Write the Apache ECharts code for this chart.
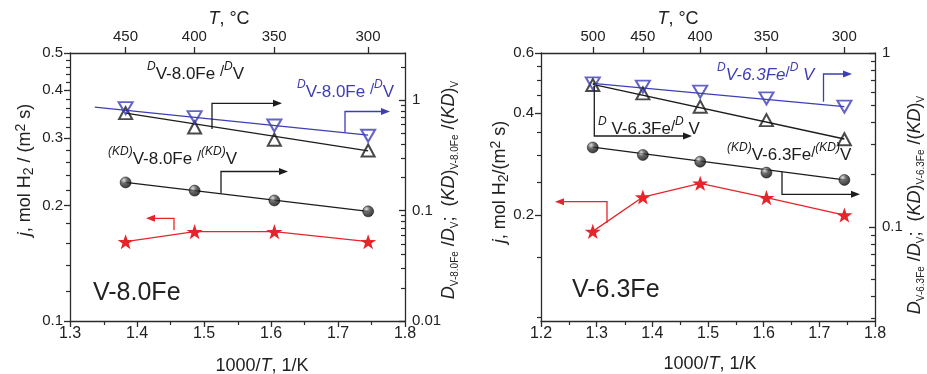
<!DOCTYPE html>
<html><head><meta charset="utf-8">
<script src="https://cdn.jsdelivr.net/npm/echarts@6/dist/echarts.min.js"></script>
<style>html,body{margin:0;padding:0;background:#fff}#c{width:927px;height:374px}</style>
</head><body><div id="c"></div>
<script>
// ---------------- data ----------------
// Left panel: V-8.0Fe
const leftInvT = [1.383, 1.486, 1.605, 1.745];
const leftTopT = [450, 400, 350, 300];
const leftFlux = [0.161, 0.171, 0.171, 0.161];
const leftDBlue = [0.841, 0.698, 0.586, 0.473];
const leftDBlack = [0.758, 0.562, 0.436, 0.348];
const leftKD = [0.179, 0.151, 0.123, 0.098];
const leftBlueFitX = [1.337, 1.745];
const leftBlueFitY = [0.859, 0.480];
const leftBlackFitX = [1.383, 1.745];
const leftBlackFitY = [0.758, 0.345];
const leftKDFitX = [1.383, 1.745];
const leftKDFitY = [0.179, 0.098];
// Right panel: V-6.3Fe
const rightInvT = [1.293, 1.383, 1.486, 1.605, 1.745];
const rightTopT = [500, 450, 400, 350, 300];
const rightFlux = [0.179, 0.226, 0.248, 0.225, 0.200];
const rightDBlue = [0.669, 0.640, 0.599, 0.548, 0.491];
const rightDBlack = [0.654, 0.586, 0.491, 0.411, 0.319];
const rightKD = [0.286, 0.259, 0.237, 0.205, 0.186];
const rightBlueFitX = [1.293, 1.745];
const rightBlueFitY = [0.669, 0.491];
const rightBlackFitX = [1.293, 1.745];
const rightBlackFitY = [0.660, 0.320];
const rightKDFitX = [1.293, 1.745];
const rightKDFitY = [0.287, 0.186];
// axis ranges and ticks
const leftFluxRange = [0.1, 0.5];
const leftFluxTicks = [0.1, 0.2, 0.3, 0.4, 0.5];
const leftFluxMinor = [0.12, 0.14, 0.16, 0.18, 0.22, 0.24, 0.26, 0.28, 0.32, 0.34, 0.36, 0.38, 0.42, 0.44, 0.46, 0.48];
const leftRatioRange = [0.01, 2.65];
const leftRatioTicks = [0.01, 0.1, 1];
const leftRatioMinor = [0.02, 0.03, 0.04, 0.05, 0.06, 0.07, 0.08, 0.09, 0.2, 0.3, 0.4, 0.5, 0.6, 0.7, 0.8, 0.9, 2];
const rightFluxRange = [0.0975, 0.6];
const rightFluxTicks = [0.2, 0.4, 0.6];
const rightFluxMinor = [0.1, 0.15, 0.25, 0.3, 0.35, 0.45, 0.5, 0.55];
const rightRatioRange = [0.0287, 1];
const rightRatioTicks = [0.1, 1];
const rightRatioMinor = [0.03, 0.04, 0.05, 0.06, 0.07, 0.08, 0.09, 0.2, 0.3, 0.4, 0.5, 0.6, 0.7, 0.8, 0.9];
const leftXRange = [1.3, 1.8];
const rightXRange = [1.2, 1.8];
const leftXMinor = [1.35, 1.45, 1.55, 1.65, 1.75];
const rightXMinor = [1.25, 1.35, 1.45, 1.55, 1.65, 1.75];

// ---------------- styling ----------------
const FONT = '"Liberation Sans", Arial, Helvetica, sans-serif';
const AX = '#2b2b2b';
const TXT = '#222';
const BLUE = '#3d3db8';
const RED = '#e5252a';
const BLK = '#1c1c1c';
const STAR = 'path://M50,0 L61.8,35.1 L98.1,35.1 L68.8,56.8 L79.4,91 L50,70.2 L20.6,91 L31.2,56.8 L1.9,35.1 L38.2,35.1 Z';
const L = Math.log10;
const fmtPow = v => String(+Math.pow(10, v).toPrecision(2));

function xBottom(gi, r) {
  return {type: 'value', gridIndex: gi, position: 'bottom', min: r[0], max: r[1], interval: 0.1,
    axisLine: {onZero: false, lineStyle: {color: AX, width: 1.3}},
    axisTick: {inside: false, length: 6, lineStyle: {color: AX, width: 1.3}},
    axisLabel: {color: TXT, fontSize: 16, fontFamily: FONT, margin: 5},
    splitLine: {show: false}};
}
function xTop(gi, r, temps) {
  const vals = temps.map(t => 1000 / (t + 273.15));
  return {type: 'value', gridIndex: gi, position: 'top', min: r[0], max: r[1],
    axisLine: {onZero: false, lineStyle: {color: AX, width: 1.3}},
    axisTick: {inside: false, length: 6, customValues: vals, lineStyle: {color: AX, width: 1.3}},
    axisLabel: {customValues: vals, color: TXT, fontSize: 15, fontFamily: FONT, margin: 9,
      formatter: v => String(Math.round(1000 / v - 273.15))},
    splitLine: {show: false}};
}
function yAxis(gi, pos, r, major, inside) {
  return {type: 'value', gridIndex: gi, position: pos, min: L(r[0]), max: L(r[1]), splitLine: {show: false},
    axisLine: {show: true, onZero: false, lineStyle: {color: AX, width: 1.3}},
    axisTick: {show: true, inside, length: 6, customValues: major.map(L), lineStyle: {color: AX, width: 1.3}},
    axisLabel: {customValues: major.map(L), formatter: fmtPow, color: TXT, fontSize: 15, fontFamily: FONT, margin: 7}};
}
const pairs = (xs, ys) => xs.map((x, i) => [x, L(ys[i])]);
function fitLine(xi, yi, xs, ys, color) {
  return {type: 'line', xAxisIndex: xi, yAxisIndex: yi, data: pairs(xs, ys), symbol: 'none', z: 2,
    lineStyle: {color, width: 1.3}, silent: true};
}
function upTri(xi, yi, xs, ys) {
  return {type: 'scatter', xAxisIndex: xi, yAxisIndex: yi, data: pairs(xs, ys), symbol: 'triangle', symbolSize: [13, 12], z: 4,
    itemStyle: {color: 'rgba(255,255,255,0)', borderColor: BLK, borderWidth: 2}};
}
function downTri(xi, yi, xs, ys) {
  return {type: 'scatter', xAxisIndex: xi, yAxisIndex: yi, data: pairs(xs, ys), symbol: 'triangle', symbolRotate: 180, symbolSize: [14, 12], z: 5,
    itemStyle: {color: 'rgba(255,255,255,0)', borderColor: BLUE, borderWidth: 2}};
}
function balls(xi, yi, xs, ys) {
  return {type: 'scatter', xAxisIndex: xi, yAxisIndex: yi, data: pairs(xs, ys), symbol: 'circle', symbolSize: 11, z: 4,
    itemStyle: {color: {type: 'radial', x: 0.35, y: 0.3, r: 0.75, colorStops: [
      {offset: 0, color: '#d8d8d8'}, {offset: 0.4, color: '#444'}, {offset: 1, color: '#000'}]},
      borderColor: '#000', borderWidth: 0.6}};
}
function stars(xi, yi, xs, ys) {
  return {type: 'line', xAxisIndex: xi, yAxisIndex: yi, data: pairs(xs, ys), symbol: STAR, symbolSize: 16, symbolKeepAspect: true, z: 4,
    showAllSymbol: true, lineStyle: {color: RED, width: 1.3}, itemStyle: {color: RED}};
}

// ---------------- annotations ----------------
function arrow(pts, color) {
  const n = pts.length, x1 = pts[n - 1][0], y1 = pts[n - 1][1];
  const dx = Math.sign(x1 - pts[n - 2][0]);
  const line = pts.slice(0, n - 1).concat([[x1 - dx * 6, y1]]);
  return [
    {type: 'polyline', z: 100, shape: {points: line}, style: {stroke: color, lineWidth: 1.3, fill: null}},
    {type: 'polygon', z: 100, shape: {points: [[x1, y1], [x1 - dx * 9, y1 - 3.5], [x1 - dx * 9, y1 + 3.5]]}, style: {fill: color}}
  ];
}
function annRich(c) {
  return {
    d: {fontSize: 12, fontStyle: 'italic', fontFamily: FONT, lineHeight: 12, verticalAlign: 'top', fill: c},
    m: {fontSize: 17, fontFamily: FONT, lineHeight: 22, verticalAlign: 'bottom', fill: c},
    mi: {fontSize: 17, fontStyle: 'italic', fontFamily: FONT, lineHeight: 22, verticalAlign: 'bottom', fill: c},
    s: {fontSize: 15, fontFamily: FONT, lineHeight: 18, verticalAlign: 'middle', fill: c}
  };
}
function text(x, y, str, rich) {
  return {type: 'text', x, y, z: 100,
    style: {text: str, rich, fill: TXT, fontSize: 17, fontFamily: FONT, align: 'left', verticalAlign: 'middle',
      textAlign: 'left', textVerticalAlign: 'middle'}};
}
function ctext(x, y, str, rich, rot) {
  return {type: 'text', x, y, z: 100, rotation: rot || 0,
    style: {text: str, rich, fill: TXT, fontSize: 18, fontFamily: FONT, align: 'center', verticalAlign: 'middle',
      textAlign: 'center', textVerticalAlign: 'middle'}};
}
const titleRich = {
  n: {fontSize: 18, fontFamily: FONT, lineHeight: 22, verticalAlign: 'middle', fill: TXT},
  i: {fontSize: 18, fontFamily: FONT, fontStyle: 'italic', lineHeight: 22, verticalAlign: 'middle', fill: TXT},
  b: {fontSize: 14, fontFamily: FONT, lineHeight: 14, verticalAlign: 'bottom', fill: TXT},
  t: {fontSize: 14, fontFamily: FONT, lineHeight: 12, verticalAlign: 'top', fill: TXT}
};
const ratioRich = {
  I: {fontSize: 18, fontFamily: FONT, fontStyle: 'italic', lineHeight: 20, verticalAlign: 'top', fill: TXT},
  p: {fontSize: 18, fontFamily: FONT, lineHeight: 20, verticalAlign: 'top', fill: TXT},
  n: {fontSize: 18, fontFamily: FONT, lineHeight: 20, verticalAlign: 'top', fill: TXT},
  b: {fontSize: 10, fontFamily: FONT, lineHeight: 8, verticalAlign: 'bottom', fill: TXT}
};
const bigRich = {n: {fontSize: 25, fontFamily: FONT, fill: TXT}};

const graphics = [].concat(
  // left panel
  text(147, 72, '{d|D}{m|V-8.0Fe }{s|/}{d|D}{m|V}', annRich(BLK)),
  text(297, 90, '{d|D}{m|V-8.0Fe }{s|/}{d|D}{m|V}', annRich(BLUE)),
  text(108, 157, '{d|(KD)}{m|V-8.0Fe }{s|/}{d|(KD)}{m|V}', annRich(BLK)),
  text(93, 293, '{n|V-8.0Fe}', bigRich),
  arrow([[212, 129], [212, 103.3], [282, 103.3]], BLK),
  arrow([[345, 132], [345, 111.5], [390, 111.5]], BLUE),
  arrow([[221, 193], [221, 171.5], [288, 171.5]], BLK),
  arrow([[174, 230], [174, 218.3], [146, 218.3]], RED),
  // right panel
  text(717, 73, '{d|D}{mi|V-6.3Fe}{s|/}{d|D}{mi| V}', annRich(BLUE)),
  text(598, 127, '{d|D}{m| V-6.3Fe}{s|/}{d|D}{m| V}', annRich(BLK)),
  text(727, 153, '{d|(KD)}{m|V-6.3Fe}{s|/}{d|(KD)}{m|V}', annRich(BLK)),
  text(572, 290, '{n|V-6.3Fe}', bigRich),
  arrow([[823.5, 101.7], [823.5, 74], [852, 74]], BLUE),
  arrow([[594.3, 86], [594.3, 136], [692, 136]], BLK),
  arrow([[782, 171.7], [782, 194.3], [860, 194.3]], BLK),
  arrow([[607, 223], [607, 201.7], [555, 201.7]], RED),
  // axis titles
  ctext(229, 19, '{i|T}{n|, °C}', titleRich),
  ctext(678, 19, '{i|T}{n|, °C}', titleRich),
  ctext(262, 366, '{n|1000/}{i|T}{n|, 1/K}', titleRich),
  ctext(710, 364, '{n|1000/}{i|T}{n|, 1/K}', titleRich),
  ctext(25, 170, '{i|j}{n|, mol H}{b|2}{n| / (m}{t|2}{n| s)}', titleRich, Math.PI / 2),
  ctext(500, 182, '{i|j}{n|, mol H}{b|2}{n|/(m}{t|2}{n| s)}', titleRich, Math.PI / 2),
  ctext(450, 190, '{I|D}{b|V-8.0Fe}{n| /}{I|D}{b|V}{n|;  }{p|(}{I|KD}{p|)}{b|V-8.0Fe}{n| /}{p|(}{I|KD}{p|)}{b|V}', ratioRich, Math.PI / 2),
  ctext(916, 205, '{I|D}{b|V-6.3Fe}{n| /}{I|D}{b|V}{n|;  }{p|(}{I|KD}{p|)}{b|V-6.3Fe}{n| /}{p|(}{I|KD}{p|)}{b|V}', ratioRich, Math.PI / 2)
);

const option = {
  animation: false,
  backgroundColor: '#fff',
  grid: [
    {left: 70, top: 53, width: 335, height: 268},
    {left: 541, top: 53, width: 334, height: 268}
  ],
  xAxis: [xBottom(0, leftXRange), xTop(0, leftXRange, leftTopT), xBottom(1, rightXRange), xTop(1, rightXRange, rightTopT)],
  yAxis: [
    yAxis(0, 'left', leftFluxRange, leftFluxTicks, false),
    yAxis(0, 'right', leftRatioRange, leftRatioTicks, true),
    yAxis(1, 'left', rightFluxRange, rightFluxTicks, false),
    yAxis(1, 'right', rightRatioRange, rightRatioTicks, true)
  ],
  series: [
    fitLine(0, 1, leftBlueFitX, leftBlueFitY, BLUE),
    fitLine(0, 1, leftBlackFitX, leftBlackFitY, BLK),
    fitLine(0, 1, leftKDFitX, leftKDFitY, BLK),
    stars(0, 0, leftInvT, leftFlux),
    upTri(0, 1, leftInvT, leftDBlack),
    downTri(0, 1, leftInvT, leftDBlue),
    balls(0, 1, leftInvT, leftKD),
    fitLine(2, 3, rightBlueFitX, rightBlueFitY, BLUE),
    fitLine(2, 3, rightBlackFitX, rightBlackFitY, BLK),
    fitLine(2, 3, rightKDFitX, rightKDFitY, BLK),
    stars(2, 2, rightInvT, rightFlux),
    upTri(2, 3, rightInvT, rightDBlack),
    downTri(2, 3, rightInvT, rightDBlue),
    balls(2, 3, rightInvT, rightKD)
  ],
  graphic: {elements: graphics}
};
const chart = echarts.init(document.getElementById('c'), null, {renderer: 'canvas'});
chart.setOption(option);

// minor ticks placed through the axes' own scales
function minorY(yi, xi, xEdge, vals, dir) {
  const x = chart.convertToPixel({xAxisIndex: xi}, xEdge);
  return vals.map(v => {
    const y = Math.round(chart.convertToPixel({yAxisIndex: yi}, L(v))) + 0.5;
    return {type: 'line', z: 100, shape: {x1: x, y1: y, x2: x + dir * 4, y2: y}, style: {stroke: AX, lineWidth: 1.2}};
  });
}
function minorX(xi, yi, yEdge, vals) {
  const y = chart.convertToPixel({yAxisIndex: yi}, yEdge);
  return vals.map(v => {
    const x = Math.round(chart.convertToPixel({xAxisIndex: xi}, v)) + 0.5;
    return {type: 'line', z: 100, shape: {x1: x, y1: y, x2: x, y2: y + 4}, style: {stroke: AX, lineWidth: 1.2}};
  });
}
const tickEls = [].concat(
  minorY(0, 0, leftXRange[0], leftFluxMinor, -1),
  minorY(1, 0, leftXRange[1], leftRatioMinor, -1),
  minorY(2, 2, rightXRange[0], rightFluxMinor, -1),
  minorY(3, 2, rightXRange[1], rightRatioMinor, -1),
  minorX(0, 0, L(leftFluxRange[0]), leftXMinor),
  minorX(2, 2, L(rightFluxRange[0]), rightXMinor)
);
chart.setOption({graphic: {elements: graphics.concat(tickEls)}});
</script>
</body></html>
